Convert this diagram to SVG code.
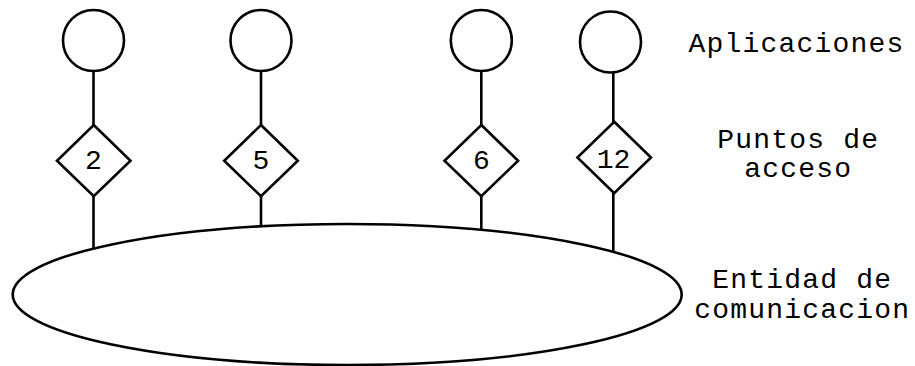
<svg xmlns="http://www.w3.org/2000/svg" width="915" height="366" viewBox="0 0 915 366">
<style>
.s{fill:#fff;stroke:#000;stroke-width:2.6}
.l{stroke:#000;stroke-width:2.6;fill:none}
.t{font-family:"Liberation Mono","Courier New",monospace;font-size:28px;letter-spacing:1.2px;fill:#000;text-anchor:middle}
.n{font-family:"Liberation Mono","Courier New",monospace;font-size:28px;fill:#000;text-anchor:middle}
</style>
<rect width="915" height="366" fill="#fff"/>
<g id="connectors">
<line class="l" x1="93.5" y1="71" x2="93.5" y2="125"/>
<line class="l" x1="93.5" y1="196" x2="93.5" y2="249"/>
<line class="l" x1="261" y1="71" x2="261" y2="125"/>
<line class="l" x1="261" y1="196" x2="261" y2="227"/>
<line class="l" x1="481.3" y1="71" x2="481.3" y2="125"/>
<line class="l" x1="481.3" y1="196" x2="481.3" y2="230"/>
<line class="l" x1="613.3" y1="73" x2="613.3" y2="122"/>
<line class="l" x1="613.3" y1="193" x2="613.3" y2="252"/>
</g>
<g id="app1"><circle class="s" cx="93.5" cy="40.5" r="30.5"/></g>
<g id="app2"><circle class="s" cx="261" cy="40.5" r="30.5"/></g>
<g id="app3"><circle class="s" cx="481.3" cy="40.5" r="30.5"/></g>
<g id="app4"><circle class="s" cx="610.5" cy="42" r="30.5"/></g>
<g id="ap2"><polygon class="s" points="93.7,125 130.5,160.7 93.7,196.3 57,160.7"/><text class="n" x="93.5" y="169">2</text></g>
<g id="ap5"><polygon class="s" points="261,125 297.8,160.7 261,196.3 224.2,160.7"/><text class="n" x="261" y="169">5</text></g>
<g id="ap6"><polygon class="s" points="481.3,125 518.1,160.7 481.3,196.3 444.5,160.7"/><text class="n" x="481.3" y="169">6</text></g>
<g id="ap12"><polygon class="s" points="614.2,121.8 651,157.5 614.2,193.1 577.4,157.5"/><text class="n" x="613.5" y="168">12</text></g>
<g id="entidad"><ellipse class="s" cx="347.2" cy="294.5" rx="334.5" ry="70.5"/></g>
<g id="labels">
<text class="t" x="796.5" y="52.3">Aplicaciones</text>
<text class="t" x="798.3" y="148.3">Puntos de</text>
<text class="t" x="798.3" y="176.7">acceso</text>
<text class="t" x="802.2" y="288.3">Entidad de</text>
<text class="t" x="802.2" y="318.3">comunicacion</text>
</g>
</svg>
